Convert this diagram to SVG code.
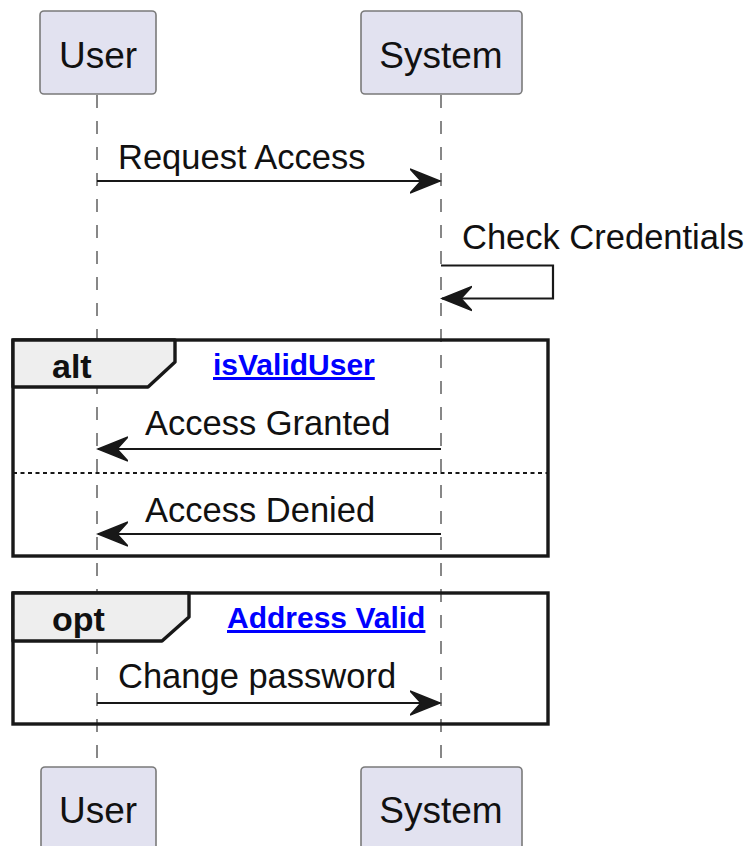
<svg xmlns="http://www.w3.org/2000/svg" width="745" height="846" viewBox="0 0 745 846">
  <style>
    .box { fill: #E2E2F0; stroke: #7a7a7a; stroke-width: 1.6; }
    .ptxt { font-family: "Liberation Sans", Arial, sans-serif; font-size: 37px; fill: #111; text-anchor: middle; }
    .life { stroke: #555; stroke-width: 1.4; stroke-dasharray: 13 13; fill: none; }
    .msg { stroke: #181818; stroke-width: 2.2; fill: none; }
    .mtxt { font-family: "Liberation Sans", Arial, sans-serif; font-size: 34.5px; fill: #111; }
    .grp { fill: none; stroke: #181818; stroke-width: 3.4; }
    .tab { fill: #EEEEEE; stroke: #181818; stroke-width: 3.4; stroke-linejoin: round; }
    .gtitle { font-family: "Liberation Sans", Arial, sans-serif; font-size: 34px; font-weight: bold; fill: #111; }
    .gcond { font-family: "Liberation Sans", Arial, sans-serif; font-size: 30px; font-weight: bold; fill: #0000FF; text-decoration: underline; }
    .sep { stroke: #181818; stroke-width: 2; stroke-dasharray: 4 3.5; }
  </style>
  <defs>
    <marker id="arrow" markerUnits="userSpaceOnUse" viewBox="0 0 32 28" refX="30" refY="14" markerWidth="32" markerHeight="28" orient="auto">
      <path d="M0,2 L30,14 L0,26 L11,14 Z" fill="#181818" stroke="#181818" stroke-width="1.5"/>
    </marker>
  </defs>

  <rect width="745" height="846" fill="#ffffff"/>

  <!-- lifelines -->
  <g id="lifelines">
    <line class="life" x1="97" y1="95" x2="97" y2="767"/>
    <line class="life" x1="441" y1="95" x2="441" y2="767"/>
  </g>

  <!-- combined fragments -->
  <g id="alt-fragment">
    <rect class="grp" x="13" y="340" width="535" height="216"/>
    <path class="tab" d="M13,340 L175,340 L175,362 L148,387 L13,387 Z"/>
    <text class="gtitle" x="52" y="378">alt</text>
    <text class="gcond" x="213" y="375">isValidUser</text>
    <line class="sep" x1="13" y1="473" x2="548" y2="473"/>
  </g>
  <g id="opt-fragment">
    <rect class="grp" x="13" y="593" width="535" height="131"/>
    <path class="tab" d="M13,593 L189,593 L189,617 L162,641 L13,641 Z"/>
    <text class="gtitle" x="52" y="631">opt</text>
    <text class="gcond" x="227" y="628">Address Valid</text>
  </g>

  <!-- participants -->
  <g id="user-top">
    <rect class="box" x="40" y="11" width="116" height="83" rx="4"/>
    <text class="ptxt" x="98" y="68">User</text>
  </g>
  <g id="system-top">
    <rect class="box" x="361" y="11" width="161" height="83" rx="4"/>
    <text class="ptxt" x="441" y="68">System</text>
  </g>
  <g id="user-bottom">
    <rect class="box" x="41" y="767" width="115" height="90" rx="4"/>
    <text class="ptxt" x="98" y="823">User</text>
  </g>
  <g id="system-bottom">
    <rect class="box" x="361" y="767" width="161" height="90" rx="4"/>
    <text class="ptxt" x="441" y="823">System</text>
  </g>

  <!-- messages -->
  <g id="connectors">
    <line class="msg" x1="97" y1="181" x2="440" y2="181" marker-end="url(#arrow)"/>
    <text class="mtxt" x="118" y="169">Request Access</text>

    <polyline class="msg" points="441,265.5 553,265.5 553,298.5 442,298.5" marker-end="url(#arrow)"/>
    <text class="mtxt" x="462" y="249">Check Credentials</text>

    <line class="msg" x1="441" y1="449" x2="98" y2="449" marker-end="url(#arrow)"/>
    <text class="mtxt" x="145" y="435">Access Granted</text>

    <line class="msg" x1="441" y1="534" x2="98" y2="534" marker-end="url(#arrow)"/>
    <text class="mtxt" x="145" y="522">Access Denied</text>

    <line class="msg" x1="97" y1="703" x2="440" y2="703" marker-end="url(#arrow)"/>
    <text class="mtxt" x="118" y="688">Change password</text>
  </g>
</svg>
